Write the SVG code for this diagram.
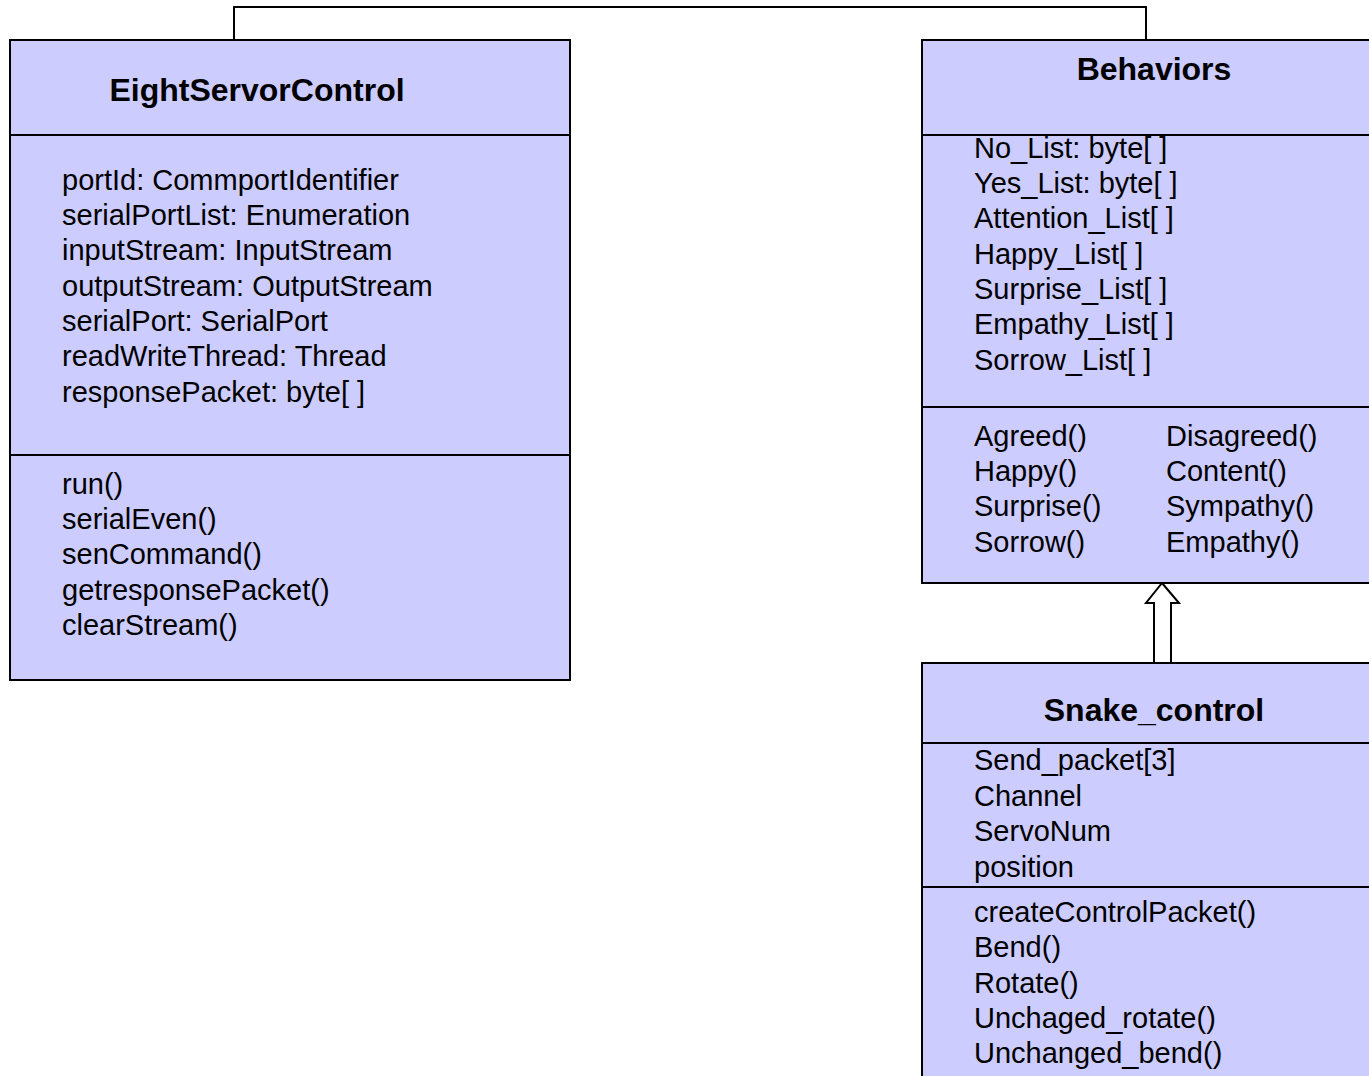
<svg xmlns="http://www.w3.org/2000/svg" width="1369" height="1076" viewBox="0 0 1369 1076">
<style>
.box{fill:#CCCCFF;stroke:#000;stroke-width:2}
.div{stroke:#000;stroke-width:2}
.t{font-family:"Liberation Sans",Arial,sans-serif;font-size:29px;fill:#000}
.h{font-family:"Liberation Sans",Arial,sans-serif;font-size:32px;font-weight:bold;fill:#000;text-anchor:middle}
.c{fill:none;stroke:#000;stroke-width:2}
</style>
<rect width="1369" height="1076" fill="#fff"/>
<g id="connectors">
<polyline class="c" points="234,40 234,7 1146,7 1146,40"/>
<polygon points="1162,583 1179,603 1171,603 1171,663 1154,663 1154,603 1146,603" fill="#fff" stroke="#000" stroke-width="2"/>
</g>
<g id="EightServorControl">
<rect class="box" x="10" y="40" width="560" height="640"/>
<line class="div" x1="10" y1="135" x2="570" y2="135"/>
<line class="div" x1="10" y1="455" x2="570" y2="455"/>
<text class="h" x="257" y="101">EightServorControl</text>
<text class="t" x="62" y="190">portId: CommportIdentifier</text>
<text class="t" x="62" y="225">serialPortList: Enumeration</text>
<text class="t" x="62" y="260">inputStream: InputStream</text>
<text class="t" x="62" y="296">outputStream: OutputStream</text>
<text class="t" x="62" y="331">serialPort: SerialPort</text>
<text class="t" x="62" y="366">readWriteThread: Thread</text>
<text class="t" x="62" y="402">responsePacket: byte[ ]</text>
<text class="t" x="62" y="494">run()</text>
<text class="t" x="62" y="529">serialEven()</text>
<text class="t" x="62" y="564">senCommand()</text>
<text class="t" x="62" y="600">getresponsePacket()</text>
<text class="t" x="62" y="635">clearStream()</text>
</g>
<g id="Behaviors">
<rect class="box" x="922" y="40" width="460" height="543"/>
<line class="div" x1="922" y1="135" x2="1369" y2="135"/>
<line class="div" x1="922" y1="407" x2="1369" y2="407"/>
<text class="h" x="1154" y="80">Behaviors</text>
<text class="t" x="974" y="158">No_List: byte[ ]</text>
<text class="t" x="974" y="193">Yes_List: byte[ ]</text>
<text class="t" x="974" y="228">Attention_List[ ]</text>
<text class="t" x="974" y="264">Happy_List[ ]</text>
<text class="t" x="974" y="299">Surprise_List[ ]</text>
<text class="t" x="974" y="334">Empathy_List[ ]</text>
<text class="t" x="974" y="370">Sorrow_List[ ]</text>
<text class="t" x="974" y="446">Agreed()</text>
<text class="t" x="974" y="481">Happy()</text>
<text class="t" x="974" y="516">Surprise()</text>
<text class="t" x="974" y="552">Sorrow()</text>
<text class="t" x="1166" y="446">Disagreed()</text>
<text class="t" x="1166" y="481">Content()</text>
<text class="t" x="1166" y="516">Sympathy()</text>
<text class="t" x="1166" y="552">Empathy()</text>
</g>
<g id="Snake_control">
<rect class="box" x="922" y="663" width="460" height="430"/>
<line class="div" x1="922" y1="743" x2="1369" y2="743"/>
<line class="div" x1="922" y1="887" x2="1369" y2="887"/>
<text class="h" x="1154" y="721">Snake_control</text>
<text class="t" x="974" y="770">Send_packet[3]</text>
<text class="t" x="974" y="806">Channel</text>
<text class="t" x="974" y="841">ServoNum</text>
<text class="t" x="974" y="877">position</text>
<text class="t" x="974" y="922">createControlPacket()</text>
<text class="t" x="974" y="957">Bend()</text>
<text class="t" x="974" y="993">Rotate()</text>
<text class="t" x="974" y="1028">Unchaged_rotate()</text>
<text class="t" x="974" y="1063">Unchanged_bend()</text>
</g>
</svg>
